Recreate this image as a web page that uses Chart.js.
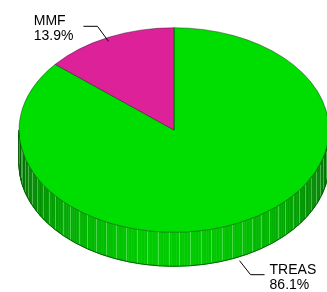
<!DOCTYPE html>
<html>
<head>
<meta charset="utf-8">
<script src="https://cdn.jsdelivr.net/npm/chart.js@4/dist/chart.umd.min.js"></script>
<style>
  html, body { margin: 0; padding: 0; background: #fff; }
  canvas { display: block; }
</style>
</head>
<body>
<canvas id="pie" width="327" height="292"></canvas>
<script>
const labels = ['TREAS', 'MMF'];
const values = [86.1, 13.9];
const colors = ['#00dd00', '#dd2299'];

const TILT = 0.66;   // vertical squash of the top face
const DEPTH = 34;    // thickness of the side wall
const FONT = '14px "Liberation Sans", Arial, sans-serif';

function shade(hex, f) {
  const n = parseInt(hex.slice(1), 16);
  const c = (v) => Math.max(0, Math.min(255, Math.round(v * f)));
  return `rgb(${c((n >> 16) & 255)},${c((n >> 8) & 255)},${c(n & 255)})`;
}

// side wall + squash the top face
const pie3d = {
  id: 'pie3d',
  beforeDatasetsDraw(chart) {
    const ctx = chart.ctx;
    const arcs = chart.getDatasetMeta(0).data;
    const cx = arcs[0].x, cy = arcs[0].y;
    const rx = arcs[0].outerRadius, ry = rx * TILT;
    const px = (a) => cx + rx * Math.cos(a);
    const py = (a) => cy + ry * Math.sin(a);

    ctx.save();
    arcs.forEach((arc, i) => {
      for (const k of [-2 * Math.PI, 0, 2 * Math.PI]) {
        const lo = Math.max(arc.startAngle, k), hi = Math.min(arc.endAngle, k + Math.PI);
        if (hi <= lo) continue;
        const step = Math.PI / 180;
        for (let a = lo; a < hi; a += step) {
          const b = Math.min(a + step, hi);
          const f = 0.4 + 0.52 * Math.sin((a + b) / 2);
          ctx.fillStyle = shade(colors[i], f);
          ctx.strokeStyle = ctx.fillStyle;
          ctx.lineWidth = 0.6;
          ctx.beginPath();
          ctx.moveTo(px(a), py(a));
          ctx.lineTo(px(b), py(b));
          ctx.lineTo(px(b), py(b) + DEPTH);
          ctx.lineTo(px(a), py(a) + DEPTH);
          ctx.closePath();
          ctx.fill();
          ctx.stroke();
        }
        // light stripes
        ctx.strokeStyle = 'rgba(170,255,170,0.4)';
        ctx.lineWidth = 1;
        const s = Math.PI / 45;
        for (let a = Math.ceil(lo / s) * s; a < hi; a += s) {
          const x = Math.round(px(a)) + 0.5;
          ctx.beginPath();
          ctx.moveTo(x, py(a));
          ctx.lineTo(x, py(a) + DEPTH);
          ctx.stroke();
        }
        // bottom edge
        ctx.strokeStyle = shade(colors[i], 0.45);
        ctx.lineWidth = 1;
        ctx.beginPath();
        ctx.ellipse(cx, cy + DEPTH, rx, ry, 0, lo, hi);
        ctx.stroke();
      }
    });
    ctx.restore();

    ctx.save();
    ctx.translate(cx, cy);
    ctx.scale(1, TILT);
    ctx.translate(-cx, -cy);
  },
  afterDatasetsDraw(chart) {
    const ctx = chart.ctx;
    ctx.restore();

    const arcs = chart.getDatasetMeta(0).data;
    ctx.save();
    ctx.font = FONT;
    ctx.fillStyle = '#000';
    ctx.strokeStyle = '#000';
    ctx.lineWidth = 1;
    arcs.forEach((arc, i) => {
      const mid = (arc.startAngle + arc.endAngle) / 2;
      const cos = Math.cos(mid), sin = Math.sin(mid);
      const rx = arc.outerRadius, ry = rx * TILT;
      const ax = arc.x + rx * cos;
      const ay = arc.y + ry * sin + (sin > 0 ? DEPTH + 4 : 4);
      const dir = cos < 0 ? -1 : 1;
      const ex = ax + dir * 11, ey = ay + (sin > 0 ? 14 : -15);
      const tx = ex + dir * 14;
      ctx.beginPath();
      ctx.moveTo(ax, ay);
      ctx.lineTo(ex, ey);
      ctx.lineTo(tx, ey);
      ctx.stroke();
      const l1 = labels[i], l2 = values[i].toFixed(1) + '%';
      const w = Math.max(ctx.measureText(l1).width, ctx.measureText(l2).width);
      const lx = dir < 0 ? tx - 10 - w : tx + 5;
      ctx.textAlign = 'left';
      ctx.textBaseline = 'alphabetic';
      ctx.fillText(l1, lx, ey - 1);
      ctx.fillText(l2, lx, ey + 14);
    });
    ctx.restore();
  }
};

new Chart(document.getElementById('pie'), {
  type: 'pie',
  data: {
    labels,
    datasets: [{
      data: values,
      backgroundColor: colors,
      borderColor: 'rgba(0,0,0,0.45)',
      borderWidth: 1,
      radius: 155,
      clip: false
    }]
  },
  options: {
    responsive: false,
    animation: false,
    events: [],
    layout: { padding: { left: 21, right: 0, top: 0, bottom: 32 } },
    plugins: { legend: { display: false }, tooltip: { enabled: false } }
  },
  plugins: [pie3d]
});
</script>
</body>
</html>
